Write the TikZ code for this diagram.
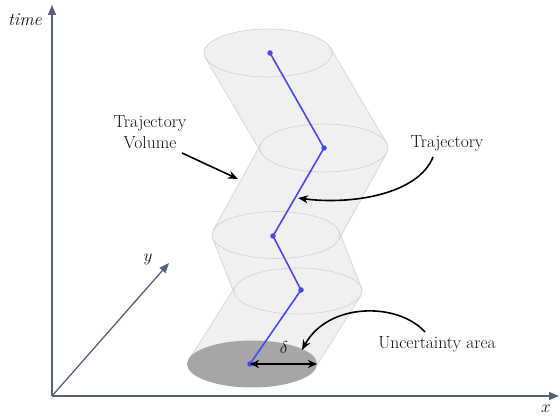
\documentclass[tikz,border=0pt]{standalone}
\usetikzlibrary{arrows.meta}
\definecolor{axisc}{RGB}{86,98,122}
\definecolor{vol}{RGB}{240,240,240}
\definecolor{voledge}{RGB}{212,212,212}
\definecolor{traj}{RGB}{72,72,235}
\definecolor{unc}{RGB}{166,166,166}
\definecolor{txt}{RGB}{20,20,20}
\begin{document}
\begin{tikzpicture}[x=1pt,y=-1pt,
  axis/.style={draw=axisc,line width=1.3pt,-{Triangle[length=10pt,width=8pt]}},
  voline/.style={draw=voledge,line width=0.7pt},
  trajline/.style={draw=traj,line width=1.6pt},
  dot/.style={circle,fill=traj,inner sep=0pt,minimum size=5.5pt},
  callout/.style={draw=black,line width=1.6pt,-{Stealth[length=10pt,width=8pt]}},
  lbl/.style={font=\fontsize{17.5}{21}\selectfont,text=txt,inner sep=0pt},
  mlbl/.style={font=\fontsize{18}{20}\selectfont,text=txt,inner sep=0pt}]
\useasboundingbox (0,0) rectangle (560,419);
% axes
\coordinate (O) at (52,396);
\coordinate (T) at (52,5);
\coordinate (X) at (559,396);
\coordinate (Y) at (169,263);
\draw[axis] (O) -- (T);
\draw[axis] (O) -- (X);
\draw[axis] (O) -- (Y);
\node[mlbl] (tl) at (25,20) {\textit{time}};
\node[mlbl] (xl) at (546,409) {$x$};
\node[mlbl] (yl) at (148,259) {$y$};
% volume hull
\fill[vol] (205.5,58.2) -- (330.5,47.8) -- (386.5,142.8) -- (261.5,153.2) -- cycle;
\fill[vol] (261.3,143.1) -- (386.7,152.9) -- (338.7,239.9) -- (213.3,230.1) -- cycle;
\fill[vol] (212.6,238.2) -- (339.4,231.8) -- (361.4,287.8) -- (234.6,294.2) -- cycle;
\fill[vol] (235.5,285.9) -- (360.5,296.1) -- (314.5,369.1) -- (189.5,358.9) -- cycle;
\fill[vol] (268,53) ellipse [x radius=64pt,y radius=24pt];
\fill[vol] (324,148) ellipse [x radius=64pt,y radius=24pt];
\fill[vol] (276,235) ellipse [x radius=64pt,y radius=23.5pt];
\fill[vol] (298,291) ellipse [x radius=64pt,y radius=23pt];
% side lines
\draw[voline] (205.5,58.2) -- (261.5,153.2);
\draw[voline] (330.5,47.8) -- (386.5,142.8);
\draw[voline] (261.3,143.1) -- (213.3,230.1);
\draw[voline] (386.7,152.9) -- (338.7,239.9);
\draw[voline] (212.6,238.2) -- (234.6,294.2);
\draw[voline] (339.4,231.8) -- (361.4,287.8);
\draw[voline] (235.5,285.9) -- (189.5,358.9);
\draw[voline] (360.5,296.1) -- (314.5,369.1);
\draw[voline] (268,53) ellipse [x radius=64pt,y radius=24pt];
\draw[voline] (324,148) ellipse [x radius=64pt,y radius=24pt];
\draw[voline] (276,235) ellipse [x radius=64pt,y radius=23.5pt];
\draw[voline] (298,291) ellipse [x radius=64pt,y radius=23pt];
% uncertainty area
\fill[unc] (252,364) ellipse [x radius=65pt,y radius=23.5pt];
% trajectory
\node[dot] (p1) at (270,53) {};
\node[dot] (p2) at (324,148) {};
\node[dot] (p3) at (273,236) {};
\node[dot] (p4) at (301,290) {};
\node[dot] (p5) at (250,364) {};
\draw[trajline] (p1.center) -- (p2.center) -- (p3.center) -- (p4.center) -- (p5.center);
% delta
\coordinate (dr) at (317,364);
\draw[line width=1.7pt,{Stealth[length=9pt,width=8pt]}-{Stealth[length=9pt,width=8pt]}] (p5.center) -- (dr);
\node[mlbl] (dl) at (284,348) {$\delta$};
% labels and callouts
\node[lbl,align=center] (tv) at (150,132) {Trajectory\\Volume};
\coordinate (tva) at (182,153);
\coordinate (tvb) at (238,179);
\draw[callout] (tva) -- (tvb);
\node[lbl] (tr) at (447,143) {Trajectory};
\coordinate (tra) at (433,157);
\coordinate (trb) at (298,198);
\draw[callout] (tra) .. controls (418,195) and (350,205) .. (trb);
\node[lbl] (ua) at (437,344) {Uncertainty area};
\coordinate (uaa) at (425,332);
\coordinate (uab) at (302,350);
\draw[callout] (uaa) .. controls (398,302) and (328,302) .. (uab);
\end{tikzpicture}
\end{document}
